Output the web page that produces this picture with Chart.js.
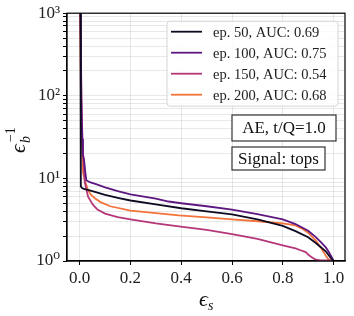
<!DOCTYPE html>
<html>
<head>
<meta charset="utf-8">
<script src="https://cdn.jsdelivr.net/npm/chart.js@4"></script>
<style>
  body { margin: 0; background: #fff; }
  #wrap { width: 354px; height: 316px; }
</style>
</head>
<body>
<div id="wrap"><canvas id="roc" width="354" height="316"></canvas></div>
<script>
// ROC-style curves: signal efficiency vs inverse background efficiency
const seriesLabels = ['ep. 50, AUC: 0.69', 'ep. 100, AUC: 0.75', 'ep. 150, AUC: 0.54', 'ep. 200, AUC: 0.68'];
const seriesColors = ['#0e0a22', '#5e1780', '#b5377a', '#f3733a'];

const effS50 = [0.0, 0.003, 0.004, 0.005, 0.01, 0.02, 0.05, 0.1, 0.15, 0.2, 0.3, 0.4, 0.5, 0.6, 0.7, 0.8, 0.85, 0.9, 0.93, 0.95, 0.97, 0.98, 0.99, 1.0];
const invB50 = [3000, 1000, 20, 8.0, 7.6, 7.4, 7.0, 6.3, 5.8, 5.4, 4.85, 4.35, 4.0, 3.66, 3.2, 2.66, 2.3, 1.94, 1.65, 1.47, 1.3, 1.18, 1.08, 1.0];

const effS100 = [0.0, 0.004, 0.006, 0.01, 0.013, 0.017, 0.022, 0.026, 0.04, 0.07, 0.1, 0.15, 0.2, 0.3, 0.35, 0.4, 0.5, 0.6, 0.7, 0.8, 0.85, 0.9, 0.93, 0.95, 0.97, 0.98, 0.99, 1.0];
const invB100 = [3000, 1000, 100, 30, 19, 17, 12, 9.5, 9.0, 8.4, 7.8, 7.0, 6.4, 5.7, 5.25, 5.0, 4.6, 4.19, 3.7, 3.19, 2.8, 2.32, 1.95, 1.69, 1.45, 1.3, 1.15, 1.0];

const effS150 = [0.0, 0.004, 0.008, 0.012, 0.016, 0.02, 0.033, 0.052, 0.07, 0.1, 0.15, 0.2, 0.3, 0.39, 0.5, 0.6, 0.7, 0.8, 0.85, 0.87, 0.89, 0.9, 0.91, 0.92, 0.93, 0.95, 0.99, 1.0];
const invB150 = [3000, 500, 60, 25, 14, 9.0, 6.0, 4.8, 4.2, 3.75, 3.4, 3.19, 2.85, 2.63, 2.38, 2.12, 1.85, 1.55, 1.42, 1.35, 1.28, 1.2, 1.13, 1.08, 1.04, 1.02, 1.02, 1.0];

const effS200 = [0.0, 0.003, 0.006, 0.01, 0.013, 0.02, 0.033, 0.045, 0.06, 0.08, 0.12, 0.2, 0.3, 0.39, 0.5, 0.6, 0.7, 0.8, 0.85, 0.88, 0.9, 0.93, 0.95, 0.96, 0.97, 0.98, 0.99, 1.0];
const invB200 = [3000, 300, 60, 25, 12, 9.5, 7.2, 6.3, 5.75, 5.2, 4.6, 4.08, 3.8, 3.56, 3.37, 3.19, 3.03, 2.86, 2.7, 2.43, 2.2, 1.77, 1.45, 1.29, 1.15, 1.05, 1.0, 1.0];

const xTicks = [0.0, 0.2, 0.4, 0.6, 0.8, 1.0];
const yDecades = [1, 10, 100, 1000];
const yTickText = { 1: '10⁰', 10: '10¹', 100: '10²', 1000: '10³' };
const infoBoxes = ['AE, t/Q=1.0', 'Signal: tops'];

const SERIF = '"Liberation Serif", "DejaVu Serif", serif';

function toPoints(xs, ys) {
    return xs.map((x, i) => ({ x: x, y: ys[i] }));
}

const allX = [effS50, effS100, effS150, effS200];
const allY = [invB50, invB100, invB150, invB200];

const datasets = seriesLabels.map((label, i) => ({
    label: label,
    data: toPoints(allX[i], allY[i]),
    borderColor: seriesColors[i],
    backgroundColor: seriesColors[i],
    borderWidth: 1.8,
    pointRadius: 0,
    showLine: true,
    tension: 0
}));

// frame, legend, text boxes and axis titles
const decorations = {
    id: 'decorations',
    afterDraw(chart) {
        const ctx = chart.ctx;
        const a = chart.chartArea;
        ctx.save();

        // full box around the axes
        ctx.strokeStyle = '#000';
        ctx.lineWidth = 1.2;
        ctx.strokeRect(a.left, a.top, a.right - a.left, a.bottom - a.top);

        // legend
        const lx = a.right - 178, ly = a.top + 8, lw = 171, lh = 85;
        ctx.beginPath();
        ctx.roundRect(lx, ly, lw, lh, 3);
        ctx.fillStyle = 'rgba(255,255,255,0.85)';
        ctx.fill();
        ctx.strokeStyle = '#d4d4d4';
        ctx.lineWidth = 1;
        ctx.stroke();
        ctx.font = '14.5px ' + SERIF;
        ctx.textBaseline = 'middle';
        ctx.textAlign = 'left';
        chart.data.datasets.forEach((ds, i) => {
            const ry = ly + 10.5 + i * 21;
            ctx.strokeStyle = ds.borderColor;
            ctx.lineWidth = 1.8;
            ctx.beginPath();
            ctx.moveTo(lx + 4, ry);
            ctx.lineTo(lx + 35, ry);
            ctx.stroke();
            ctx.fillStyle = '#222';
            ctx.fillText(ds.label, lx + 46, ry + 1);
        });

        // info boxes
        ctx.font = '17px ' + SERIF;
        ctx.strokeStyle = '#333';
        ctx.lineWidth = 1.2;
        const boxes = [
            { x: 232, y: 115, w: 104, h: 26 },
            { x: 232, y: 147, w: 93, h: 23 }
        ];
        infoBoxes.forEach((t, i) => {
            const b = boxes[i];
            ctx.fillStyle = '#fff';
            ctx.fillRect(b.x, b.y, b.w, b.h);
            ctx.strokeRect(b.x, b.y, b.w, b.h);
            ctx.fillStyle = '#111';
            ctx.textAlign = 'center';
            ctx.fillText(t, b.x + b.w / 2, b.y + b.h / 2 + 1);
        });

        // x axis title: epsilon_s
        ctx.fillStyle = '#111';
        ctx.textAlign = 'left';
        ctx.textBaseline = 'alphabetic';
        const cx = (a.left + a.right) / 2;
        ctx.font = 'italic 22px ' + SERIF;
        ctx.fillText('ϵ', cx - 7, 306);
        ctx.font = 'italic 14px ' + SERIF;
        ctx.fillText('s', cx + 2, 310);

        // y axis title: epsilon_b^-1
        ctx.save();
        ctx.translate(25, (a.top + a.bottom) / 2);
        ctx.rotate(-Math.PI / 2);
        ctx.font = 'italic 22px ' + SERIF;
        ctx.fillText('ϵ', -16, 0);
        ctx.font = 'italic 14px ' + SERIF;
        ctx.fillText('b', -6, 5);
        ctx.font = '14px ' + SERIF;
        ctx.fillText('−1', -5, -10);
        ctx.restore();

        ctx.restore();
    }
};

new Chart(document.getElementById('roc').getContext('2d'), {
    type: 'scatter',
    data: { datasets: datasets },
    options: {
        responsive: false,
        animation: false,
        layout: { padding: { top: 7, right: 9, left: 0, bottom: 0 } },
        plugins: {
            legend: { display: false },
            tooltip: { enabled: false }
        },
        scales: {
            x: {
                type: 'linear',
                min: -0.05,
                max: 1.045,
                afterBuildTicks: (scale) => { scale.ticks = xTicks.map(v => ({ value: v })); },
                afterFit: (scale) => { scale.height = 55; },
                ticks: {
                    color: '#222',
                    font: { family: SERIF, size: 17 },
                    padding: 3,
                    maxRotation: 0,
                    autoSkip: false,
                    callback: (v) => v.toFixed(1)
                },
                grid: { color: 'rgba(0,0,0,0.09)', tickLength: 4, tickColor: '#000' },
                border: { color: '#000', width: 1.2 }
            },
            y: {
                type: 'logarithmic',
                min: 1,
                max: 1000,
                afterBuildTicks: (scale) => {
                    const t = [];
                    yDecades.forEach(d => {
                        for (let m = 1; m <= 9; m++) {
                            const v = d * m;
                            if (v <= 1000) t.push({ value: v, major: m === 1 });
                        }
                    });
                    scale.ticks = t;
                },
                afterFit: (scale) => { scale.width = 67; },
                ticks: {
                    color: '#222',
                    font: { family: SERIF, size: 17 },
                    padding: 3,
                    autoSkip: false,
                    callback: (v) => yTickText[v] || ''
                },
                grid: { color: 'rgba(0,0,0,0.09)', tickLength: 4, tickColor: '#000' },
                border: { color: '#000', width: 1.2 }
            }
        }
    },
    plugins: [decorations]
});
</script>
</body>
</html>
